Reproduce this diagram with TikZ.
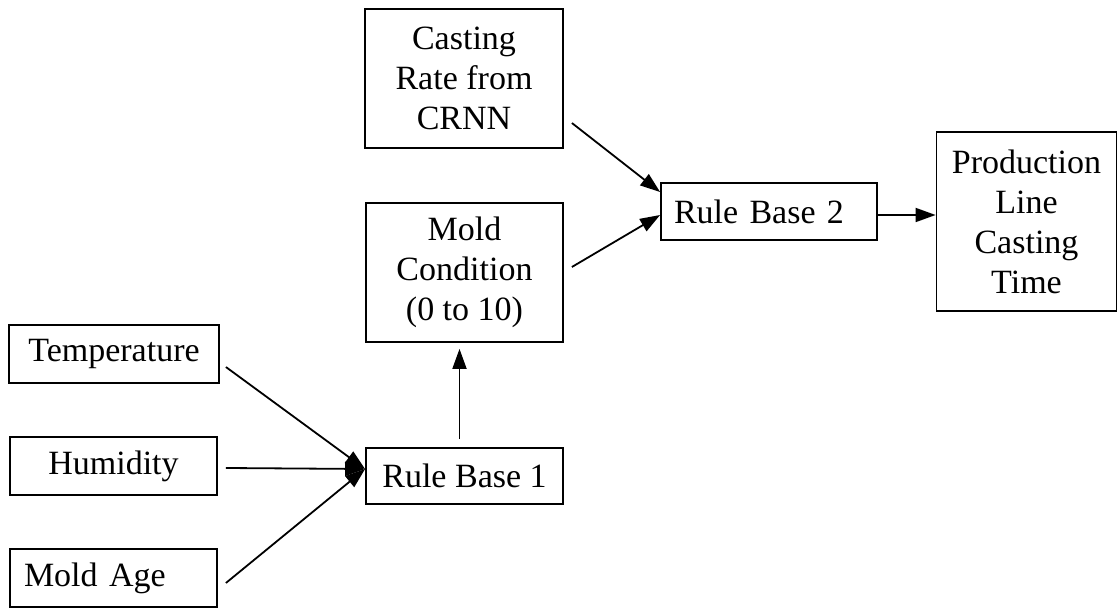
\documentclass[tikz,border=0pt]{standalone}
\usepackage{fontspec}
\setmainfont{Liberation Serif}
\usetikzlibrary{arrows.meta}
\begin{document}
\begin{tikzpicture}[x=1pt,y=-1pt,
  box/.style={draw,line width=1.8pt,inner sep=0pt,align=center,
    font=\fontsize{34}{40}\selectfont},
  arr/.style={line width=1.8pt,-{Triangle[length=20pt,width=14pt]}}]
\useasboundingbox (0,0) rectangle (1117,609);

% inputs of the first rule base
\node[box,minimum width=210pt,minimum height=58pt] (temp) at (114,354) {Temperature};
\node[box,minimum width=207pt,minimum height=58pt] (hum) at (113.5,466) {Humidity};
\node[box,minimum width=207pt,minimum height=58pt,text width=179pt,align=left,inner xsep=14pt] (age) at (113.5,578) {Mold Age};

% rule bases and intermediate values
\node[box,minimum width=197pt,minimum height=56pt] (rb1) at (464.5,476) {Rule Base 1};
\node[box,minimum width=197pt,minimum height=139pt] (cond) at (464.5,272.5) {Mold\\Condition\\(0 to 10)};
\node[box,minimum width=198pt,minimum height=139pt] (crnn) at (464,78.5) {Casting\\Rate from\\CRNN};
\node[box,minimum width=216pt,minimum height=57pt,text width=190pt,align=left,inner xsep=13pt] (rb2) at (769,211.5) {Rule Base 2};
\node[box,minimum width=180pt,minimum height=179pt] (prod) at (1026.5,221.5) {Production\\Line\\Casting\\Time};

% connectors
\draw[arr] ([xshift=6pt,yshift=-13pt]temp.east) -- ([yshift=7pt]rb1.west);
\draw[arr] ([xshift=8pt,yshift=-2pt]hum.east) -- ([yshift=7pt]rb1.west);
\draw[arr] ([xshift=8pt,yshift=-5pt]age.east) -- ([yshift=7pt]rb1.west);
\draw[arr] ([xshift=-5pt,yshift=8pt]rb1.north) -- ([xshift=-5pt,yshift=-6pt]cond.south);
\draw[arr] ([xshift=8pt,yshift=-44.5pt]crnn.east) -- ([yshift=19.5pt]rb2.west);
\draw[arr] ([xshift=8pt,yshift=5.5pt]cond.east) -- ([yshift=-3.5pt]rb2.west);
\draw[arr] ([xshift=-1pt,yshift=-3.5pt]rb2.east) -- ([yshift=6.5pt]prod.west);
\end{tikzpicture}
\end{document}
